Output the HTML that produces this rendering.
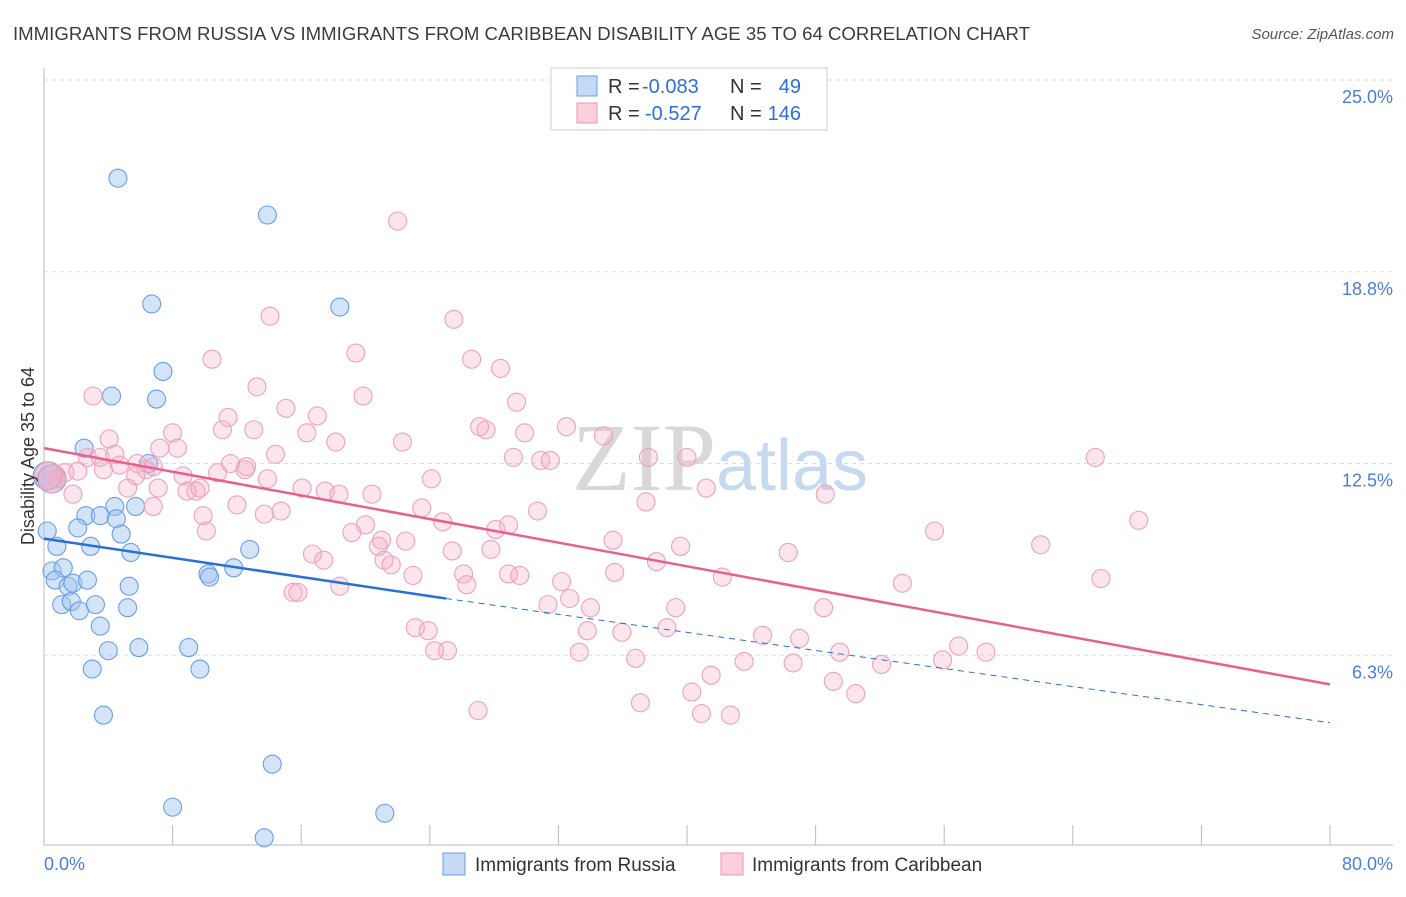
<!DOCTYPE html>
<html><head><meta charset="utf-8"><style>
body{margin:0;background:#fff;font-family:"Liberation Sans",sans-serif}
svg text{font-family:"Liberation Sans",sans-serif}
</style></head><body>
<svg id="chart" width="1406" height="892" viewBox="0 0 1406 892" xmlns="http://www.w3.org/2000/svg">
<text x="13" y="40" font-size="18" fill="#3c3c3c" textLength="1017" lengthAdjust="spacingAndGlyphs">IMMIGRANTS FROM RUSSIA VS IMMIGRANTS FROM CARIBBEAN DISABILITY AGE 35 TO 64 CORRELATION CHART</text>
<text x="1394" y="39" font-size="15" fill="#555" text-anchor="end" font-style="italic">Source: ZipAtlas.com</text>
<text x="720" y="490" font-size="96" text-anchor="middle"><tspan fill="#d8d8d8" font-family="Liberation Serif">ZIP</tspan><tspan fill="#c6d9ef" font-size="72">atlas</tspan></text>
<g id="grid"></g>
<g id="axes"></g>
<g id="pts"></g>
<g id="trends"></g>
<text transform="translate(34,456) rotate(-90)" font-size="18" fill="#333" text-anchor="middle">Disability Age 35 to 64</text>
<text x="44" y="870" font-size="18" fill="#4a7fd6">0.0%</text>
<text x="1393" y="870" font-size="18" fill="#4a7fd6" text-anchor="end">80.0%</text>
<g>
<rect x="551" y="68" width="276" height="62" fill="#fff" stroke="#ccc"/>
<rect x="577" y="76" width="20" height="20" fill="#c5daf6" stroke="#6a9ee8"/>
<rect x="577" y="103" width="20" height="20" fill="#fbd0dc" stroke="#ee93ae"/>
<text x="608" y="93" font-size="20" fill="#333">R =</text>
<text x="642" y="93" font-size="20" fill="#2f6fd8">-0.083</text>
<text x="730" y="93" font-size="20" fill="#333">N =</text>
<text x="801" y="93" font-size="20" fill="#2f6fd8" text-anchor="end">49</text>
<text x="608" y="120" font-size="20" fill="#333">R =</text>
<text x="645" y="120" font-size="20" fill="#2f6fd8">-0.527</text>
<text x="730" y="120" font-size="20" fill="#333">N =</text>
<text x="801" y="120" font-size="20" fill="#2f6fd8" text-anchor="end">146</text>
</g>
<g>
<rect x="443" y="853" width="22" height="22" fill="#c5daf6" stroke="#6a9ee8"/>
<text x="475" y="871" font-size="19" fill="#333">Immigrants from Russia</text>
<rect x="721" y="853" width="22" height="22" fill="#fbd0dc" stroke="#ee93ae"/>
<text x="752" y="871" font-size="19" fill="#333">Immigrants from Caribbean</text>
</g>
</svg>
<script>
const yTicks=[6.25,12.5,18.75,25];
const yTickLabels=["6.3%","12.5%","18.8%","25.0%"];
const xTicks=[8,16,24,32,40,48,56,64,72,80];
const russiaX=[4.6,13.9,6.7,18.4,7.4,4.2,7.0,2.5,6.5,4.4,5.7,2.6,3.5,4.5,2.1,4.8,0.2,0.8,2.9,5.4,12.8,11.8,10.2,10.3,0.5,1.2,0.7,1.5,1.8,2.7,5.3,1.1,1.7,3.2,2.2,5.2,3.5,5.9,4.0,9.0,3.0,9.7,3.7,14.2,8.0,21.2,13.7,0.2,0.5];
const russiaY=[21.8,20.6,17.7,17.6,15.5,14.7,14.6,13.0,12.5,11.1,11.1,10.8,10.8,10.7,10.4,10.2,10.3,9.8,9.8,9.6,9.7,9.1,8.9,8.8,9.0,9.1,8.7,8.5,8.6,8.7,8.5,7.9,8.0,7.9,7.7,7.8,7.2,6.5,6.4,6.5,5.8,5.8,4.3,2.7,1.3,1.1,0.3,12.1,12.0];
const caribX=[22.0,14.06,25.5,10.45,19.4,26.6,28.4,3.05,13.25,19.85,29.4,15.05,11.45,17.0,11.1,13.05,27.1,27.5,8.0,16.35,4.05,18.15,22.3,29.9,32.5,34.8,7.2,8.3,14.4,2.7,3.5,4.4,5.8,6.35,6.8,11.6,12.6,12.5,29.2,30.9,31.5,37.6,40.0,65.4,1.3,2.1,3.7,4.7,5.7,8.65,10.8,13.9,24.1,0.8,0.45,1.8,5.2,7.1,8.9,9.7,9.45,16.05,17.5,18.35,20.4,41.2,48.6,6.8,12.0,14.75,9.9,13.7,23.5,24.8,30.7,37.45,10.1,19.15,20.0,21.0,20.8,22.5,28.1,28.9,68.1,55.4,35.4,39.6,46.3,62.0,16.7,17.4,25.4,27.8,21.15,21.6,22.95,26.1,26.3,28.9,29.6,32.2,35.5,38.1,42.2,53.4,65.75,15.5,15.8,18.4,31.35,32.7,34.0,39.3,48.5,23.1,23.9,33.8,35.95,38.75,44.7,47.0,24.3,25.1,33.3,36.8,43.55,46.6,49.5,52.1,55.9,56.9,58.6,41.5,49.1,40.3,50.5,37.1,27.0,40.9,42.7,0.3];
const caribY=[20.4,17.3,17.2,15.9,16.1,15.9,15.6,14.7,15.0,14.7,14.5,14.3,14.0,14.05,13.6,13.6,13.7,13.6,13.5,13.5,13.3,13.2,13.2,13.5,13.7,13.4,13.0,13.0,12.8,12.7,12.7,12.8,12.5,12.3,12.4,12.5,12.4,12.3,12.7,12.6,12.6,12.7,12.7,12.7,12.2,12.25,12.3,12.45,12.1,12.1,12.2,12.0,12.0,12.0,12.0,11.5,11.7,11.7,11.6,11.7,11.6,11.7,11.6,11.5,11.5,11.7,11.5,11.1,11.15,10.95,10.8,10.85,11.05,10.6,10.95,11.25,10.3,10.25,10.5,10.0,9.8,9.97,10.35,10.5,10.65,10.3,10.0,9.8,9.6,9.85,9.55,9.35,9.65,9.7,9.35,9.2,8.85,8.9,8.55,8.9,8.85,8.65,8.95,9.3,8.8,8.6,8.75,8.3,8.3,8.5,7.9,8.1,7.8,7.8,7.8,7.15,7.05,7.05,7.0,7.15,6.9,6.8,6.4,6.4,6.35,6.15,6.05,6.0,6.35,5.95,6.1,6.55,6.35,5.6,5.4,5.05,5.0,4.7,4.45,4.35,4.3,12.1];
const russiaTrend=[[0,10.05],[25,8.1],[80,4.05]];
const caribTrend=[[0,13.0],[80,5.3]];
const X0=44,X1=1330,YT=80,YB=847;
const sx=v=>X0+v/80*(X1-X0);
const sy=v=>YB-v/25*(YB-YT);
const NS="http://www.w3.org/2000/svg";
function mk(p,t,a){const e=document.createElementNS(NS,t);for(const k in a)e.setAttribute(k,a[k]);p.appendChild(e);return e;}
const grid=document.getElementById('grid'),axes=document.getElementById('axes'),pts=document.getElementById('pts'),tr=document.getElementById('trends');
yTicks.forEach((v,i)=>{
 const l=mk(grid,'line',{x1:X0,x2:1393,y1:sy(v),y2:sy(v),stroke:'#ddd','stroke-dasharray':'4,4'});
 
 
 const t=mk(grid,'text',{x:1393,y:sy(v)+23,'font-size':18,fill:'#4a7fd6','text-anchor':'end'});
 t.textContent=yTickLabels[i];
 
 
});
const ya=mk(axes,'line',{x1:X0,x2:X0,y1:68,y2:845,stroke:'#bbb'});


const xa=mk(axes,'line',{x1:X0,x2:1393,y1:845,y2:845,stroke:'#bbb'});


xTicks.forEach(v=>{
 const t=mk(axes,'line',{x1:sx(v),x2:sx(v),y1:825,y2:845,stroke:'#bbb'});
 
 
});
function dots(xs,ys,fill,stroke,name){
 xs.forEach((x,i)=>{
  const big=(x<0.6&&ys[i]>11.5&&ys[i]<12.3);
  const c=mk(pts,'circle',{cx:sx(x),cy:sy(ys[i]),r:big?14:9,fill:fill,stroke:stroke,'stroke-width':1.1});
  
  
 });
}
dots(russiaX,russiaY,'rgba(160,196,240,0.45)','#6a9ee8','russia-point');
dots(caribX,caribY,'rgba(246,170,194,0.3)','#eea2ba','caribbean-point');
const rs=mk(tr,'line',{x1:sx(russiaTrend[0][0]),y1:sy(russiaTrend[0][1]),x2:sx(russiaTrend[1][0]),y2:sy(russiaTrend[1][1]),stroke:'#2a6fd6','stroke-width':2.5});


const rd=mk(tr,'line',{x1:sx(russiaTrend[1][0]),y1:sy(russiaTrend[1][1]),x2:sx(russiaTrend[2][0]),y2:sy(russiaTrend[2][1]),stroke:'#2a6fd6','stroke-width':1,'stroke-dasharray':'6,5'});


const cl=mk(tr,'line',{x1:sx(caribTrend[0][0]),y1:sy(caribTrend[0][1]),x2:sx(caribTrend[1][0]),y2:sy(caribTrend[1][1]),stroke:'#e8608e','stroke-width':2.5});


</script>
</body></html>
